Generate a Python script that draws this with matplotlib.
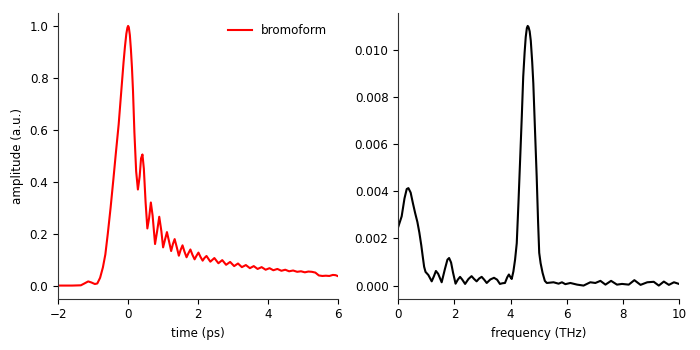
import matplotlib
matplotlib.use("Agg")
import matplotlib.pyplot as plt

# Time-domain trace (ps, a.u.)
time_ps = [
    -2.0, -1.6, -1.35, -1.25, -1.14, -1.05, -0.95, -0.88, -0.80, -0.72,
    -0.65, -0.58, -0.50, -0.42, -0.35, -0.27, -0.20, -0.13, -0.09, -0.05,
    -0.02, 0.0, 0.02, 0.05, 0.08, 0.11, 0.14, 0.18, 0.23, 0.28,
    0.33, 0.37, 0.41, 0.45, 0.50, 0.55, 0.60, 0.65, 0.70, 0.77,
    0.83, 0.89, 0.95, 1.00, 1.06, 1.11, 1.17, 1.23, 1.28, 1.33,
    1.39, 1.45, 1.50, 1.555, 1.61, 1.67, 1.725, 1.78, 1.84, 1.90,
    1.955, 2.01, 2.07, 2.13, 2.18, 2.24, 2.35, 2.465, 2.58, 2.69,
    2.80, 2.915, 3.03, 3.14, 3.25, 3.365, 3.48, 3.59, 3.70, 3.815,
    3.93, 4.04, 4.15, 4.265, 4.38, 4.49, 4.60, 4.715, 4.83, 4.94,
    5.05, 5.15, 5.25, 5.35, 5.45, 5.55, 5.65, 5.75, 5.85, 5.93,
    6.0,
]
amplitude = [
    0.0, 0.0, 0.001, 0.008, 0.016, 0.012, 0.006, 0.008, 0.030, 0.070,
    0.12, 0.20, 0.30, 0.41, 0.51, 0.62, 0.74, 0.86, 0.92, 0.97,
    0.993, 1.0, 0.995, 0.965, 0.91, 0.84, 0.75, 0.59, 0.44, 0.37,
    0.42, 0.49, 0.505, 0.45, 0.32, 0.22, 0.26, 0.32, 0.27, 0.16,
    0.21, 0.265, 0.21, 0.147, 0.18, 0.206, 0.17, 0.133, 0.16, 0.179,
    0.148, 0.115, 0.137, 0.155, 0.131, 0.109, 0.125, 0.139, 0.118, 0.101,
    0.115, 0.127, 0.110, 0.096, 0.106, 0.114, 0.092, 0.106, 0.086, 0.098,
    0.080, 0.091, 0.075, 0.085, 0.071, 0.079, 0.067, 0.075, 0.064, 0.071,
    0.061, 0.067, 0.059, 0.064, 0.057, 0.061, 0.055, 0.058, 0.053, 0.055,
    0.051, 0.054, 0.053, 0.050, 0.039, 0.037, 0.038, 0.037, 0.041, 0.040,
    0.036,
]

# Spectrum (THz, magnitude)
freq_thz = [
    0.0, 0.12, 0.22, 0.30, 0.36, 0.44, 0.52, 0.60, 0.68, 0.75,
    0.82, 0.87, 0.92, 0.97, 1.07, 1.19, 1.27, 1.34, 1.42, 1.545,
    1.66, 1.75, 1.81, 1.88, 1.95, 2.04, 2.12, 2.20, 2.28, 2.38,
    2.50, 2.61, 2.70, 2.79, 2.88, 2.97, 3.06, 3.15, 3.28, 3.41,
    3.52, 3.62, 3.72, 3.80, 3.88, 3.94, 4.00, 4.04, 4.10, 4.16,
    4.22, 4.28, 4.34, 4.40, 4.45, 4.50, 4.54, 4.58, 4.61, 4.64,
    4.68, 4.72, 4.77, 4.81, 4.87, 4.93, 4.98, 5.02, 5.07, 5.14,
    5.22, 5.29, 5.53, 5.71, 5.83, 5.95, 6.13, 6.37, 6.60, 6.84,
    7.02, 7.20, 7.38, 7.58, 7.79, 7.97, 8.21, 8.41, 8.63, 8.87,
    9.10, 9.28, 9.46, 9.64, 9.82, 10.0,
]
magnitude = [
    0.00250, 0.00294, 0.00370, 0.00410, 0.00414, 0.00395, 0.00350, 0.00308, 0.00270, 0.00225,
    0.00170, 0.00124, 0.00080, 0.00058, 0.00045, 0.00018, 0.00040, 0.00062, 0.00050, 0.00014,
    0.00070, 0.00110, 0.00117, 0.00098, 0.00055, 0.00008, 0.00025, 0.00037, 0.00025, 0.00007,
    0.00028, 0.00040, 0.00028, 0.00018, 0.00030, 0.00037, 0.00025, 0.00011, 0.00026, 0.00033,
    0.00025, 0.00007, 0.00010, 0.00011, 0.00035, 0.00047, 0.00035, 0.00028, 0.00060, 0.00110,
    0.00180, 0.00350, 0.00534, 0.00720, 0.00887, 0.00990, 0.01056, 0.01094, 0.01103, 0.01098,
    0.01080, 0.01040, 0.00950, 0.00859, 0.00660, 0.00463, 0.00270, 0.00139, 0.00095, 0.00054,
    0.00020, 0.00011, 0.00014, 0.00008, 0.00014, 0.00006, 0.00011, 0.00004, 0.00000, 0.00014,
    0.00011, 0.00020, 0.00004, 0.00020, 0.00004, 0.00007, 0.00004, 0.00023, 0.00003, 0.00014,
    0.00016, 0.00000, 0.00017, 0.00003, 0.00014, 0.00007,
]

time_ticks = [-2, 0, 2, 4, 6]
amp_ticks = [0.0, 0.2, 0.4, 0.6, 0.8, 1.0]
freq_ticks = [0, 2, 4, 6, 8, 10]
mag_ticks = [0.000, 0.002, 0.004, 0.006, 0.008, 0.010]

plt.rcParams["font.family"] = ["DejaVu Sans"]
plt.rcParams["font.size"] = 8.6

fig = plt.figure(figsize=(7, 3.5), dpi=100)
ax1 = fig.add_axes([0.083, 0.147, 0.400, 0.816])
ax2 = fig.add_axes([0.569, 0.147, 0.401, 0.816])

ax1.plot(time_ps, amplitude, color="red", lw=1.5, label="bromoform")
ax1.set_xlim(-2, 6)
ax1.set_xticks(time_ticks)
ax1.set_yticks(amp_ticks)
ax1.set_xlabel("time (ps)")
ax1.set_ylabel("amplitude (a.u.)")
ax1.legend(loc="upper right", frameon=False)

ax2.plot(freq_thz, magnitude, color="black", lw=1.5)
ax2.set_xlim(0, 10)
ax2.set_xticks(freq_ticks)
ax2.set_yticks(mag_ticks)
ax2.set_yticklabels([f"{v:.3f}" for v in mag_ticks])
ax2.set_xlabel("frequency (THz)")

for ax in (ax1, ax2):
    ax.spines["top"].set_visible(False)
    ax.spines["right"].set_visible(False)
    for s in ("left", "bottom"):
        ax.spines[s].set_color("#333333")

fig.savefig("out.png", dpi=100)
